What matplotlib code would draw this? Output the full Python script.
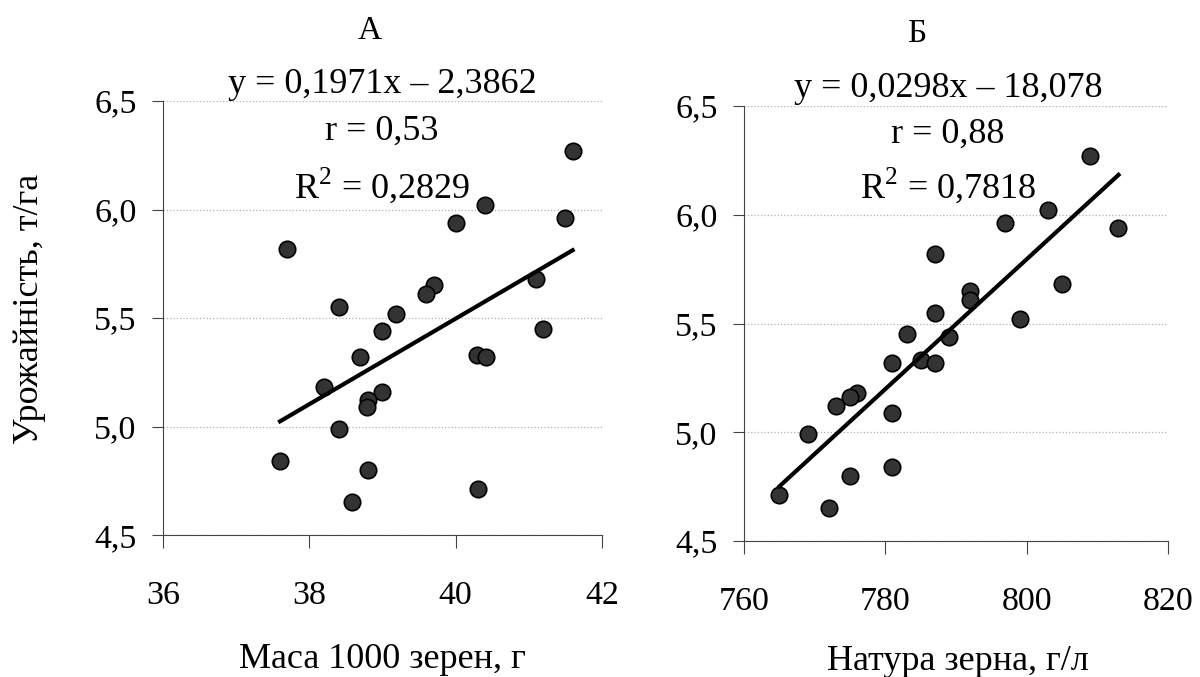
import numpy as np
import matplotlib as ml
import matplotlib.pyplot as plt
from matplotlib.ticker import FuncFormatter

ml.rcParams.update({
    'font.family': ['Liberation Serif', 'DejaVu Serif'],
    'font.size': 25,
    'mathtext.fontset': 'custom',
    'mathtext.rm': 'Liberation Serif',
})

# Panel А: маса 1000 зерен, г
mass_x = [37.70, 41.60, 40.40, 40.00, 41.50, 38.41, 39.70, 39.59, 41.10, 39.19, 39.00, 41.19,
          38.70, 40.29, 40.41, 38.20, 39.00, 38.80, 38.79, 38.41, 37.60, 38.80, 40.31, 38.59]
mass_y = [5.82, 6.27, 6.02, 5.94, 5.96, 5.55, 5.65, 5.61, 5.68, 5.52, 5.44, 5.45,
          5.32, 5.33, 5.32, 5.18, 5.16, 5.12, 5.09, 4.99, 4.84, 4.80, 4.71, 4.65]

# Panel Б: натура зерна, г/л
nat_x = [809.0, 803.0, 797.0, 813.0, 787.0, 805.0, 792.0, 792.0, 787.0, 799.0, 783.0, 789.0,
         781.0, 785.0, 787.0, 776.0, 775.0, 773.0, 781.0, 769.0, 781.0, 775.0, 765.0, 772.0]
nat_y = [6.27, 6.02, 5.96, 5.94, 5.82, 5.68, 5.65, 5.61, 5.55, 5.52, 5.45, 5.44,
         5.32, 5.33, 5.32, 5.18, 5.16, 5.12, 5.09, 4.99, 4.84, 4.80, 4.71, 4.65]

titles = ['А', 'Б']
stats = [['y = 0,1971x – 2,3862', 'r = 0,53', 'R$^2$ = 0,2829'],
         ['y = 0,0298x – 18,078', 'r = 0,88', 'R$^2$ = 0,7818']]
xlabels = ['Маса 1000 зерен, г', 'Натура зерна, г/л']
ylabel = 'Урожайність, т/га'
xticks = [[36, 38, 40, 42], [760, 780, 800, 820]]
yticks = [4.5, 5.0, 5.5, 6.0, 6.5]

comma_fmt = FuncFormatter(lambda v, pos: ('%g' % v).replace('.', ','))
comma_fmt1 = FuncFormatter(lambda v, pos: ('%.1f' % v).replace('.', ','))

fig = plt.figure(figsize=(12, 6.77), dpi=100)
axes = [fig.add_axes([0.1358, 0.2097, 0.3658, 0.6411]),
        fig.add_axes([0.620, 0.2009, 0.3533, 0.6425])]

# text placement in figure coords (x centre, baselines)
title_xy = [(0.3083, 0.9424), (0.7642, 0.938)]
stats_x = [0.3183, 0.790]
stats_y = [[0.8626, 0.7932, 0.7075], [0.8567, 0.7888, 0.7075]]
xlabel_xy = [(0.319, 0.013), (0.798, 0.010)]

data = [(mass_x, mass_y), (nat_x, nat_y)]
for i, ax in enumerate(axes):
    x, y = np.array(data[i][0]), np.array(data[i][1])
    ax.scatter(x, y, s=140, color='#333333', edgecolor='black', linewidth=1.2, zorder=3)
    # linear trend line over the data range
    k, b = np.polyfit(x, y, 1)
    xs = np.array([x.min(), x.max()])
    ax.plot(xs, k * xs + b, color='black', lw=3, zorder=4)

    ax.set_xlim(xticks[i][0], xticks[i][-1])
    ax.set_ylim(4.5, 6.5)
    ax.set_xticks(xticks[i])
    ax.set_yticks(yticks)
    ax.xaxis.set_major_formatter(comma_fmt)
    ax.yaxis.set_major_formatter(comma_fmt1)
    ax.tick_params(axis='x', length=9, pad=24, color='#444444', labelsize=24.5)
    ax.tick_params(axis='y', length=8, pad=11, color='#444444', labelsize=24.5)
    ax.grid(axis='y', color='#b0b0b0', linestyle=':', linewidth=0.9)
    ax.set_axisbelow(True)
    for s in ['top', 'right']:
        ax.spines[s].set_visible(False)
    for s in ['left', 'bottom']:
        ax.spines[s].set_color('#444444')

    fig.text(title_xy[i][0], title_xy[i][1], titles[i], ha='center', va='baseline', fontsize=24)
    for j, line in enumerate(stats[i]):
        fig.text(stats_x[i], stats_y[i][j], line, ha='center', va='baseline', fontsize=26, zorder=5)
    fig.text(xlabel_xy[i][0], xlabel_xy[i][1], xlabels[i], ha='center', va='baseline', fontsize=26)

fig.text(0.025, 0.5436, ylabel, rotation=90, ha='center', va='center', fontsize=26)

fig.savefig('out.png', dpi=100)
